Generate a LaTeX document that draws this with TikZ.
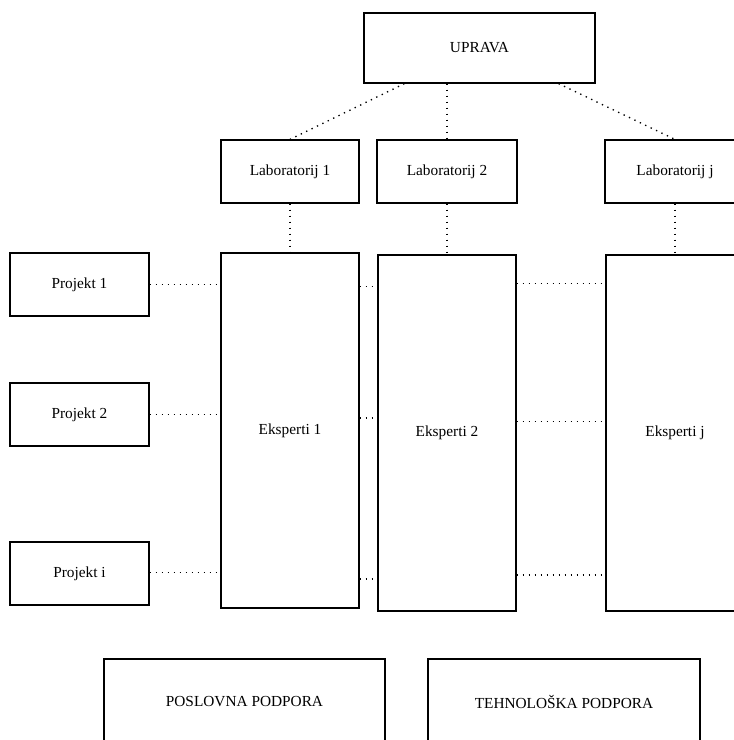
\documentclass[tikz,border=0pt]{standalone}
\usepackage{fontspec}
\setmainfont{Liberation Serif}
\usetikzlibrary{calc}

\begin{document}
\begin{tikzpicture}[x = 0.75pt, y = -0.75pt, % pixel grid, y downwards
                line width = 0.9pt % box line style
            ]

            \tikzstyle{every node}=[draw = black, rectangle, inner sep = 0pt,
            font = \fontsize{11.5}{13}\selectfont]
            \tikzstyle{lab}=[minimum width = 105pt, minimum height = 47.25pt]
            \tikzstyle{proj}=[minimum width = 104.25pt, minimum height = 47.25pt]
            \tikzstyle{eksp}=[minimum width = 103.5pt, minimum height = 267pt]
            \tikzstyle{podpora}=[minimum height = 64.5pt]
            \tikzstyle{link}=[line width = 1pt, dash pattern = on 1pt off 3.5pt]

            \clip (0,0) rectangle (734,740);
            \useasboundingbox (0,0) rectangle (734,740);

            % management and laboratories
            \node (uprava) [minimum width = 173.25pt, minimum height = 52.5pt]
            at (479.5,48) {UPRAVA};
            \node (lab1) [lab, minimum width = 103.5pt] at (290,171.5) {Laboratorij 1};
            \node (lab2) [lab] at (447,171.5) {Laboratorij 2};
            \node (labj) [lab] at (675,171.5) {Laboratorij j};

            % projects
            \node (p1) [proj] at (79.5,284.5) {Projekt 1};
            \node (p2) [proj] at (79.5,414.5) {Projekt 2};
            \node (pi) [proj] at (79.5,573.5) {Projekt i};

            % experts
            \node (e1) [eksp, minimum height = 266.25pt] at (290,430.5) {Eksperti 1};
            \node (e2) [eksp] at (447,433) {Eksperti 2};
            \node (ej) [eksp] at (675,433) {Eksperti j};

            % support
            \node (posl) [podpora, minimum width = 210.75pt] at (244.5,702)
            {POSLOVNA PODPORA};
            \node (tehn) [podpora, minimum width = 204pt] at (564,702)
            {TEHNOLOŠKA PODPORA};

            \draw[link] ([xshift = 30.75pt]uprava.south west) -- (lab1.north);
            \draw[link] (uprava.south -| lab2.north) -- (lab2.north);
            \draw[link] ([xshift = -27.75pt]uprava.south east) -- (labj.north);

            \draw[link] (lab1.south) -- (e1.north);
            \draw[link] (lab2.south) -- (e2.north);
            \draw[link] (labj.south) -- (ej.north);

            \draw[link] (p1.east) -- (p1.east -| e1.west);
            \draw[link] (p2.east) -- (p2.east -| e1.west);
            \draw[link] ([yshift = 1pt]pi.east) -- ([yshift = 1pt]pi.east -| e1.west);

            \draw[link] ([yshift = -1.5pt]p1.east -| e1.east) -- ([yshift = -1.5pt]p1.east -| e2.west);
            \draw[link] ([yshift = -2.5pt]p2.east -| e1.east) -- ([yshift = -2.5pt]p2.east -| e2.west);
            \draw[link] ([yshift = -4pt]pi.east -| e1.east) -- ([yshift = -4pt]pi.east -| e2.west);

            \draw[link] ([yshift = 1pt]p1.east -| e2.east) -- ([yshift = 1pt]p1.east -| ej.west);
            \draw[link] ([yshift = -5pt]p2.east -| e2.east) -- ([yshift = -5pt]p2.east -| ej.west);
            \draw[link] ([yshift = -1pt]pi.east -| e2.east) -- ([yshift = -1pt]pi.east -| ej.west);
        \end{tikzpicture}
\end{document}
